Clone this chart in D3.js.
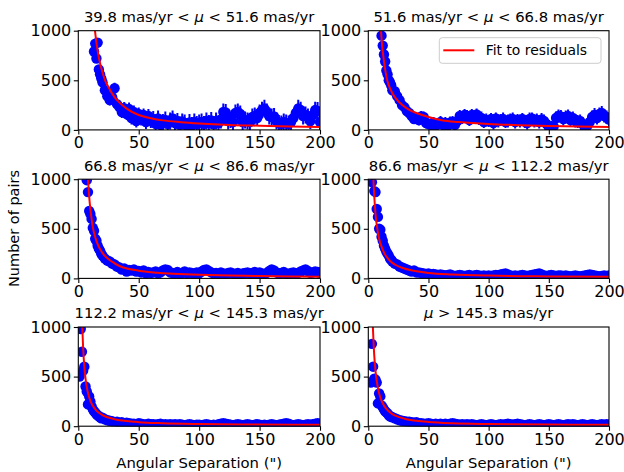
<!DOCTYPE html>
<html><head><meta charset="utf-8">
<script src="https://cdn.jsdelivr.net/npm/d3@7"></script>
<style>
body{margin:0;background:#fff}
svg{display:block}
text{font-family:"DejaVu Sans",sans-serif;fill:#000}
</style>
</head><body>
<svg id="chart" width="624" height="472"></svg>
<script>
// ---------- data ----------
const separation = [1,2,3,4,5,6,7,8,9,10,11,12,13,14,15,16,17,18,19,20,
 22,24,26,28,30,32,34,36,38,40,
 42,44,46,48,50,52,54,56,58,60,
 62,64,66,68,70,72,74,76,78,80,
 82,84,86,88,90,92,94,96,98,100,
 102,104,106,108,110,112,114,116,118,120,
 122,124,126,128,130,132,134,136,138,140,
 142,144,146,148,150,152,154,156,158,160,
 162,164,166,168,170,172,174,176,178,180,
 182,184,186,188,190,192,194,196,198,200];

const panelTitles = [
  ["39.8 mas/yr < ", "μ", " < 51.6 mas/yr"],
  ["51.6 mas/yr < ", "μ", " < 66.8 mas/yr"],
  ["66.8 mas/yr < ", "μ", " < 86.6 mas/yr"],
  ["86.6 mas/yr < ", "μ", " < 112.2 mas/yr"],
  ["112.2 mas/yr < ", "μ", " < 145.3 mas/yr"],
  ["", "μ", " > 145.3 mas/yr"]
];

const counts1 = [null,null,null,null,null,null,null,null,null,null,null,null,790,870,720,880,610,560,520,480,
 400,340,300,330,420,260,230,180,220,160,
 210,120,180,90,160,110,150,80,140,90,
 110,60,115,50,80,100,60,90,115,70,
 90,50,85,70,40,75,50,80,60,70,
 80,60,90,70,95,60,90,70,100,180,
 175,90,100,80,170,180,160,80,100,90,
 80,130,140,120,170,200,215,180,140,130,
 135,90,70,60,80,70,60,80,120,170,
 215,200,140,150,130,90,150,200,190,80];
const errors1 = [null,null,null,null,null,null,null,null,null,null,null,null,45,40,45,40,45,40,45,40,
 50,50,55,55,55,60,60,60,60,60,
 65,65,65,65,65,65,65,70,70,70,
 80,85,80,85,80,85,80,85,80,85,
 80,85,80,85,80,85,80,85,80,85,
 85,80,85,80,85,80,85,80,85,85,
 85,85,80,85,85,85,85,80,85,85,
 85,85,85,80,85,85,90,85,85,85,
 85,85,80,85,85,85,85,80,85,85,
 90,85,85,85,85,80,85,85,90,85];

const counts2 = [null,null,null,null,null,null,null,null,null,null,950,850,760,690,600,560,500,480,450,400,
 390,340,300,250,230,190,170,140,110,120,
 100,135,130,70,60,50,75,40,60,80,
 50,70,40,75,80,50,90,140,120,150,
 140,100,150,130,155,110,120,80,100,90,
 110,70,115,90,100,110,80,90,105,110,
 80,100,90,110,85,70,110,115,90,100,
 80,105,90,60,30,25,35,120,140,135,
 110,130,140,100,120,90,85,90,60,20,
 40,80,130,150,120,160,170,140,130,105];
const errors2 = [null,null,null,null,null,null,null,null,null,null,35,35,35,35,35,35,35,35,35,35,
 40,40,40,45,45,45,50,50,50,50,
 55,55,55,55,55,60,55,60,60,60,
 60,60,60,60,60,60,60,60,60,60,
 60,60,60,65,60,60,65,60,65,60,
 60,65,60,65,60,65,60,65,60,65,
 65,60,65,60,65,65,65,60,65,65,
 65,65,65,60,65,65,65,65,65,65,
 65,65,65,65,65,65,65,65,65,65,
 65,65,65,70,65,65,70,65,65,65];

const counts3 = [null,null,null,null,null,null,990,870,680,650,600,510,480,400,380,330,300,280,250,230,
 200,180,170,150,140,120,110,90,100,70,
 85,80,90,70,75,60,80,50,65,55,
 60,70,50,60,80,90,85,60,55,50,
 65,45,55,70,50,60,55,45,60,50,
 70,85,90,75,60,50,55,45,60,50,
 45,55,60,50,45,55,40,50,55,60,
 50,55,65,45,60,50,45,55,75,90,
 80,60,50,55,65,50,45,55,60,50,
 55,70,80,90,75,55,60,70,65,55];
const errors3 = [null,null,null,null,null,null,40,40,40,40,40,40,40,40,40,40,40,40,40,40,
 35,35,35,35,35,35,35,35,35,35,
 35,30,35,30,35,30,35,30,35,30,
 35,30,35,30,35,30,35,30,35,30,
 35,30,35,30,35,30,35,30,35,30,
 35,30,35,30,35,30,35,30,35,30,
 35,30,35,30,35,30,35,30,35,30,
 35,30,35,30,35,30,35,30,35,30,
 35,30,35,30,35,30,35,30,35,30,
 35,30,35,30,35,30,35,30,35,30];

const counts4 = [null,null,970,null,880,870,700,620,500,490,420,380,330,300,270,250,230,200,190,170,
 150,140,120,110,100,90,80,70,80,60,
 60,55,50,45,50,40,45,40,35,40,
 35,30,35,40,30,25,30,35,30,25,
 30,35,25,30,35,30,25,30,25,30,
 25,30,35,30,40,45,50,40,30,25,
 30,25,30,35,30,25,30,35,40,45,
 50,40,30,25,30,35,30,25,30,30,
 25,30,25,20,25,30,25,20,25,30,
 35,40,35,30,25,20,25,30,25,30];
const errors4 = [null,null,40,null,35,35,35,35,35,35,35,35,35,35,35,35,35,35,35,35,
 25,25,25,25,25,25,25,25,25,25,
 22,20,22,20,22,20,22,20,22,20,
 22,20,22,20,22,20,22,20,22,20,
 22,20,22,20,22,20,22,20,22,20,
 22,20,22,20,22,20,22,20,22,20,
 22,20,22,20,22,20,22,20,22,20,
 22,20,22,20,22,20,22,20,22,20,
 22,20,22,20,22,20,22,20,22,20,
 22,20,22,20,22,20,22,20,22,20];

const counts5 = [500,980,750,560,600,400,350,220,300,250,200,170,150,140,120,110,100,90,80,85,
 70,60,55,50,40,45,35,40,30,35,
 30,25,25,20,30,25,20,15,25,20,
 20,15,20,25,15,20,15,20,15,20,
 15,20,15,10,15,20,15,10,15,15,
 10,15,20,15,10,15,10,20,25,30,
 25,20,15,10,15,20,15,10,15,20,
 15,10,15,20,15,10,15,10,15,20,
 15,10,15,20,25,30,25,15,10,15,
 20,15,10,15,20,15,20,25,30,20];
const errors5 = [35,35,35,35,35,35,35,35,35,35,35,35,35,35,35,35,35,35,35,35,
 20,20,20,20,20,20,20,20,20,20,
 15,15,15,15,15,15,15,15,15,15,
 15,15,15,15,15,15,15,15,15,15,
 15,15,15,15,15,15,15,15,15,15,
 15,15,15,15,15,15,15,15,15,15,
 15,15,15,15,15,15,15,15,15,15,
 15,15,15,15,15,15,15,15,15,15,
 15,15,15,15,15,15,15,15,15,15,
 15,15,15,15,15,15,15,15,15,15];

const counts6 = [null,440,830,600,480,470,440,230,330,300,210,190,170,150,140,130,110,100,95,90,
 80,70,60,55,50,45,45,40,35,40,
 30,30,25,25,30,25,20,25,20,25,
 20,25,20,25,30,25,20,15,20,15,
 20,15,20,15,10,15,20,15,10,15,
 20,15,10,15,20,15,20,25,20,15,
 20,25,20,15,10,15,20,15,10,15,
 20,15,10,15,20,15,10,15,20,15,
 10,15,20,15,20,15,10,15,20,15,
 10,15,20,15,10,15,20,15,20,15];
const errors6 = [null,35,35,35,35,35,35,35,35,35,35,35,35,35,35,35,35,35,35,35,
 20,20,20,20,20,20,20,20,20,20,
 15,15,15,15,15,15,15,15,15,15,
 15,15,15,15,15,15,15,15,15,15,
 15,15,15,15,15,15,15,15,15,15,
 15,15,15,15,15,15,15,15,15,15,
 15,15,15,15,15,15,15,15,15,15,
 15,15,15,15,15,15,15,15,15,15,
 15,15,15,15,15,15,15,15,15,15,
 15,15,15,15,15,15,15,15,15,15];

// fit to residuals
const fitSep1 = [13.8,15,16,17,19,22,25,30,35,40,50,60,70,85,100,125,150,175,200];
const fitVal1 = [1000,880,800,730,623,505,430,330,265,215,150,118,96,78,65,50,42,35,30];
const fitSep2 = [10.5,11.5,12.5,13.5,15.3,17,20,23,28,33,40,50,62,75,100,125,150,175,200];
const fitVal2 = [1000,850,740,650,522,450,370,315,253,210,170,130,95,80,60,48,40,34,30];
const fitSep3 = [8,9,10,11,12.2,14,16,18,20.4,25,30,35,41,50,55,65,75,100,125,150,175,200];
const fitVal3 = [1000,826,696,597,504,416,345,295,250,192,152,120,98,78,69,58,49,37,29,24,20,17];
const fitSep4 = [4.2,5,6,7.5,9,11,13.5,17,22,30,40,50,70,100,150,200];
const fitVal4 = [1000,820,650,500,400,320,250,190,140,100,72,55,40,28,20,16];
const fitSep5 = [3.3,4,5,6,7,8.5,10,12,15,20,25,30,40,50,70,100,150,200];
const fitVal5 = [1000,789,598,478,396,312,256,205,157,112,87,71,52,41,30,22,16,14];
const fitSep6 = [3.8,4.5,5.5,7,8.5,10,12,15,20,25,30,40,50,70,100,150,200];
const fitVal6 = [1000,804,621,456,356,290,231,174,122,94,76,55,43,30,22,16,14];

const xTicks = [0,50,100,150,200];
const yTicks = [0,500,1000];
const xLabel = 'Angular Separation (")';
const yLabel = "Number of pairs";
const legendLabel = "Fit to residuals";

const panels = [
  {counts: counts1, errors: errors1, fx: fitSep1, fy: fitVal1},
  {counts: counts2, errors: errors2, fx: fitSep2, fy: fitVal2},
  {counts: counts3, errors: errors3, fx: fitSep3, fy: fitVal3},
  {counts: counts4, errors: errors4, fx: fitSep4, fy: fitVal4},
  {counts: counts5, errors: errors5, fx: fitSep5, fy: fitVal5},
  {counts: counts6, errors: errors6, fx: fitSep6, fy: fitVal6}
];

// ---------- layout ----------
const colX = [78.3, 368.3], colW = [241.7, 240.7];
const rowY = [30.7, 179.2, 327.0], rowH = 99.2;
const BLUE = "#0000ff", RED = "#ff0000";

const svg = d3.select("#chart");
svg.append("rect").attr("width",624).attr("height",472).attr("fill","#fff");

panels.forEach((p, i) => {
  const col = i % 2, row = Math.floor(i / 2);
  const w = colW[col], h = rowH;
  const g = svg.append("g").attr("transform", `translate(${colX[col]},${rowY[row]})`);
  const x = d3.scaleLinear().domain([0, 200]).range([0, w]);
  const y = d3.scaleLinear().domain([0, 1000]).range([h, 0]);

  const clipId = "clip" + i;
  g.append("clipPath").attr("id", clipId).append("rect")
    .attr("x", 0).attr("y", 0).attr("width", w).attr("height", h);

  const pts = separation.map((s, k) => ({s, c: p.counts[k], e: p.errors[k]}))
    .filter(d => d.c !== null && d.c !== undefined);

  const data = g.append("g").attr("clip-path", `url(#${clipId})`);
  data.selectAll("line.err").data(pts).enter().append("line")
    .attr("class", "err")
    .attr("x1", d => x(d.s)).attr("x2", d => x(d.s))
    .attr("y1", d => y(d.c - d.e)).attr("y2", d => y(d.c + d.e))
    .attr("stroke", BLUE).attr("stroke-width", 2);
  data.selectAll("circle").data(pts).enter().append("circle")
    .attr("cx", d => x(d.s)).attr("cy", d => y(d.c)).attr("r", 5.2)
    .attr("fill", BLUE);

  const fit = p.fx.map((s, k) => [s, p.fy[k]]);
  data.append("path").datum(fit)
    .attr("d", d3.line().x(d => x(d[0])).y(d => y(d[1])).curve(d3.curveMonotoneX))
    .attr("fill", "none").attr("stroke", RED).attr("stroke-width", 2);

  // axes
  const xa = g.append("g").attr("transform", `translate(0,${h})`)
    .call(d3.axisBottom(x).tickValues(xTicks).tickFormat(d3.format("d")).tickSize(4.5).tickPadding(2.5));
  const ya = g.append("g")
    .call(d3.axisLeft(y).tickValues(yTicks).tickFormat(d3.format("d")).tickSize(4.5).tickPadding(2.5));
  [xa, ya].forEach(a => {
    a.select(".domain").remove();
    a.selectAll("line").attr("stroke", "#000").attr("stroke-width", 1.1);
    a.selectAll("text").attr("font-size", "16px").attr("font-family", '"DejaVu Sans",sans-serif').attr("fill", "#000");
  });

  // spines
  g.append("rect").attr("x", 0).attr("y", 0).attr("width", w).attr("height", h)
    .attr("fill", "none").attr("stroke", "#000").attr("stroke-width", 1.1);

  // title
  const t = panelTitles[i];
  const tt = g.append("text").attr("x", w / 2).attr("y", -8.7)
    .attr("text-anchor", "middle").attr("font-size", "14.8px");
  if (t[0]) tt.append("tspan").text(t[0]);
  tt.append("tspan").attr("font-style", "italic").text(t[1]);
  tt.append("tspan").text(t[2]);

  if (row === 2) {
    g.append("text").attr("x", w / 2).attr("y", h + 42)
      .attr("text-anchor", "middle").attr("font-size", "14.8px").text(xLabel);
  }

  if (i === 1) {
    const lg = svg.append("g");
    lg.append("rect").attr("x", 439.3).attr("y", 37.7).attr("width", 161.7).attr("height", 25.6)
      .attr("rx", 3).attr("fill", "#fff").attr("fill-opacity", 0.8)
      .attr("stroke", "#cccccc").attr("stroke-width", 1);
    lg.append("line").attr("x1", 443.3).attr("x2", 474.3).attr("y1", 50.3).attr("y2", 50.3)
      .attr("stroke", RED).attr("stroke-width", 2);
    lg.append("text").attr("x", 485.7).attr("y", 55.2).attr("font-size", "13.9px").text(legendLabel);
  }
});

svg.append("text")
  .attr("transform", "translate(19,228.5) rotate(-90)")
  .attr("text-anchor", "middle").attr("font-size", "14.5px").text(yLabel);
</script>
</body></html>
